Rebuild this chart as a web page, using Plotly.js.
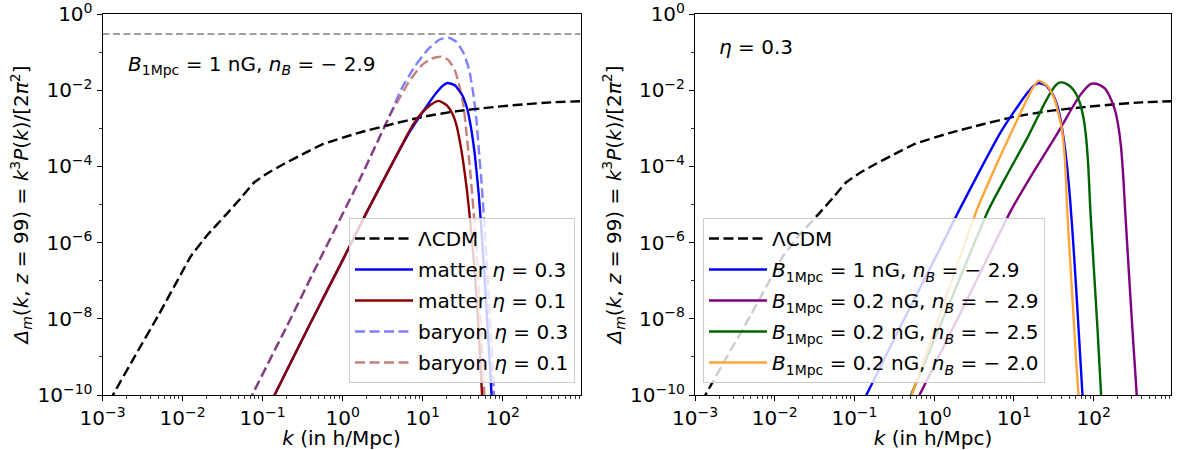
<!DOCTYPE html>
<html><head><meta charset="utf-8">
<script src="https://cdn.plot.ly/plotly-3.0.1.min.js"></script>
<style>html,body{margin:0;padding:0;background:#fff}</style>
</head><body><div id="chart" style="width:1181px;height:450px"></div>
<script>
// ---------- data ----------
const lcdmK = [0.001,0.00135,0.00251,0.00501,0.01,0.0126,0.0204,0.0331,0.0531,0.0776,0.115,0.186,0.331,0.575,1.585,3.98,10,26.9,70.8,186,398,955];
const lcdmD = [3.16e-11,1e-10,1e-9,1.26e-8,1.78e-7,4.27e-7,1.58e-6,4.79e-6,1.45e-5,3.72e-5,6.61e-5,1.17e-4,2.19e-4,3.89e-4,7.59e-4,1.26e-3,2.0e-3,2.82e-3,3.55e-3,4.27e-3,4.79e-3,5.13e-3];

const matter03K = [0.126,0.141,0.398,1.0,2.0,3.98,6.92,11.2,14.8,17.8,20.4,25.1,30.9,35.5,39.8,44.7,50.1,55.0,60.3,66.1,72.4,75.9];
const matter03D = [6.2e-11,1e-10,7.9e-9,3.47e-7,6.31e-6,1.0e-4,8.32e-4,3.8e-3,8.51e-3,1.32e-2,1.55e-2,1.35e-2,7.59e-3,3.55e-3,1.12e-3,2.0e-4,1.78e-5,1.26e-6,6.31e-8,2.51e-9,1e-10,1.58e-11];

const matter01K = [0.126,0.141,0.398,1.0,2.0,3.98,6.61,7.94,10.0,12.6,15.8,20.0,23.4,26.3,28.8,31.6,35.5,39.8,44.7,50.1,55.0,57.5];
const matter01D = [6.2e-11,1e-10,7.9e-9,3.47e-7,6.31e-6,1.0e-4,7.59e-4,1.45e-3,2.69e-3,4.17e-3,5.25e-3,3.98e-3,2.45e-3,1.23e-3,5.01e-4,1.58e-4,2.51e-5,2.51e-6,1.58e-7,3.98e-9,1e-10,1.6e-11];

const baryon03K = [0.0676,0.0741,0.200,0.513,1.585,3.98,5.37,7.94,11.7,16.2,20.9,26.3,32.4,38.0,42.7,46.8,50.1,55.0,60.3,66.1,72.4,77.6,81.3];
const baryon03D = [6.3e-11,1e-10,6.3e-9,3.47e-7,3.98e-5,2.51e-3,1.05e-2,4.17e-2,0.120,0.214,0.240,0.186,9.33e-2,3.39e-2,8.32e-3,1.66e-3,2.82e-4,2.51e-5,1.26e-6,5.01e-8,2.0e-9,1e-10,1.6e-11];

const baryon01K = [0.0676,0.0741,0.200,0.513,1.585,3.98,5.01,6.61,9.55,12.9,17.0,20.9,25.1,28.8,32.4,34.7,39.8,44.7,50.1,55.0,58.9,61.7];
const baryon01D = [6.3e-11,1e-10,6.3e-9,3.47e-7,3.98e-5,2.40e-3,5.62e-3,1.58e-2,4.37e-2,6.76e-2,7.59e-2,6.17e-2,3.39e-2,1.23e-2,3.72e-3,1.0e-3,5.01e-5,2.51e-6,6.31e-8,1.58e-9,1e-10,1.6e-11];

const b02n29K = [0.589,0.655,2.512,9.27,18.2,35.9,52.5,64.1,75.9,85.1,94.4,107,123,139,158,185,204,220,234,248,275,309,347,363];
const b02n29D = [6.3e-11,1e-10,2.82e-8,7.24e-6,7.94e-5,7.94e-4,3.16e-3,6.31e-3,1.0e-2,1.29e-2,1.48e-2,1.48e-2,1.32e-2,1.10e-2,7.08e-3,3.02e-3,1.12e-3,3.31e-4,6.31e-5,7.24e-6,2.0e-7,3.98e-9,1e-10,2.0e-11];

const b02n25K = [0.468,0.513,1.585,4.80,8.41,15.0,24.3,29.5,33.1,37.0,41.7,47.9,52.8,60.3,67.3,74.1,79.4,85.7,90.8,100,112,124,129];
const b02n25D = [6.3e-11,1e-10,2.82e-8,7.24e-6,6.61e-5,6.03e-4,4.57e-3,9.33e-3,1.32e-2,1.58e-2,1.58e-2,1.38e-2,1.17e-2,7.94e-3,4.57e-3,2.0e-3,7.41e-4,9.77e-5,7.24e-6,2.51e-7,5.0e-9,1e-10,2.5e-11];

const b02n20K = [0.479,0.525,1.259,3.43,5.62,8.41,12.4,16.6,20.4,26.9,32.6,39.5,43.6,46.6,50.1,55.0,60.3,64.6,67.6];
const b02n20D = [5.75e-11,1e-10,1.9e-8,7.24e-6,7.94e-5,5.01e-4,2.82e-3,1.0e-2,1.78e-2,1.23e-2,5.5e-3,1.10e-3,1.48e-4,7.24e-6,5.01e-7,2.0e-8,7.94e-10,1e-10,2.0e-11];

const saturationLevel = 0.3;

const xTickVals = [1e-3,1e-2,1e-1,1,10,100];
const xTickText = ['10<sup>−3</sup>','10<sup>−2</sup>','10<sup>−1</sup>','10<sup>0</sup>','10<sup>1</sup>','10<sup>2</sup>'];
const yTickVals = [1e-10,1e-8,1e-6,1e-4,1e-2,1];
const yTickText = ['10<sup>−10</sup>','10<sup>−8</sup>','10<sup>−6</sup>','10<sup>−4</sup>','10<sup>−2</sup>','10<sup>0</sup>'];

const leftNames = ['ΛCDM','matter <i>η</i> = 0.3','matter <i>η</i> = 0.1','baryon <i>η</i> = 0.3','baryon <i>η</i> = 0.1'];
const rightNames = ['ΛCDM',
  '<i>B</i><sub>1Mpc</sub> = 1 nG, <i>n<sub>B</sub></i> = − 2.9',
  '<i>B</i><sub>1Mpc</sub> = 0.2 nG, <i>n<sub>B</sub></i> = − 2.9',
  '<i>B</i><sub>1Mpc</sub> = 0.2 nG, <i>n<sub>B</sub></i> = − 2.5',
  '<i>B</i><sub>1Mpc</sub> = 0.2 nG, <i>n<sub>B</sub></i> = − 2.0'];

// ---------- styling ----------
const FONT = 'DejaVu Sans, sans-serif';
const FS = 20;
const DASH = '10px,4.5px';
const LW = 2.4;

function tr(x, y, name, color, dash, ax, leg, idx) {
  return {
    x: x, y: y, name: name, type: 'scatter', mode: 'lines',
    line: {color: color, width: LW, dash: dash || 'solid', shape: 'spline', smoothing: 0.5},
    xaxis: ax === 2 ? 'x2' : 'x', yaxis: ax === 2 ? 'y2' : 'y',
    legend: leg, legendgroup: leg + idx, hoverinfo: 'skip'
  };
}

const data = [
  tr(lcdmK, lcdmD, leftNames[0], '#000000', DASH, 1, 'legend', 0),
  tr(matter03K, matter03D, leftNames[1], '#0000ff', null, 1, 'legend', 1),
  tr(matter01K, matter01D, leftNames[2], '#8b0000', null, 1, 'legend', 2),
  tr(baryon03K, baryon03D, leftNames[3], 'rgba(0,0,255,0.5)', DASH, 1, 'legend', 3),
  tr(baryon01K, baryon01D, leftNames[4], 'rgba(139,0,0,0.5)', DASH, 1, 'legend', 4),
  tr(lcdmK, lcdmD, rightNames[0], '#000000', DASH, 2, 'legend2', 0),
  tr(matter03K, matter03D, rightNames[1], '#0000ff', null, 2, 'legend2', 1),
  tr(b02n29K, b02n29D, rightNames[2], '#800080', null, 2, 'legend2', 2),
  tr(b02n25K, b02n25D, rightNames[3], '#006400', null, 2, 'legend2', 3),
  tr(b02n20K, b02n20D, rightNames[4], '#ffa53a', null, 2, 'legend2', 4)
];

function minorVals() {
  const v = [];
  for (let d = -3; d <= 2; d++) for (let m = 2; m <= 9; m++) v.push(m * Math.pow(10, d));
  return v;
}

function xax(domain, anchor) {
  return {
    type: 'log', domain: domain, anchor: anchor, range: [-3, 2.97],
    tickmode: 'array', tickvals: xTickVals, ticktext: xTickText,
    ticks: 'outside', ticklen: 5, tickwidth: 1, tickcolor: '#000',
    minor: {tickmode: 'array', tickvals: minorVals(), ticks: 'outside', ticklen: 3, tickwidth: 0.8, tickcolor: '#000'},
    showline: true, mirror: true, linecolor: '#000', linewidth: 1,
    showgrid: false, zeroline: false, ticklabeloverflow: 'allow',
    tickfont: {family: FONT, size: FS, color: '#000'},
    title: {text: '<i>k</i> (in h/Mpc)', font: {family: FONT, size: FS, color: '#000'}, standoff: 6},
    automargin: false
  };
}
function yax(domain, anchor) {
  return {
    type: 'log', domain: domain, anchor: anchor, range: [-10, 0],
    tickmode: 'array', tickvals: yTickVals, ticktext: yTickText,
    ticks: 'outside', ticklen: 5, tickwidth: 1, tickcolor: '#000',
    minor: {tickmode: 'array', tickvals: [1e-9,1e-7,1e-5,1e-3,1e-1], ticks: 'outside', ticklen: 3, tickwidth: 0.8, tickcolor: '#000'},
    showline: true, mirror: true, linecolor: '#000', linewidth: 1,
    showgrid: false, zeroline: false, ticklabeloverflow: 'allow',
    tickfont: {family: FONT, size: FS, color: '#000'},
    title: {text: '<i>Δ</i><sub><i>m</i></sub>(<i>k</i>, <i>z</i> = 99) = <i>k</i><sup>3</sup><i>P</i>(<i>k</i>)/[2<i>π</i><sup>2</sup>]',
            font: {family: FONT, size: FS, color: '#000'}, standoff: 3},
    automargin: false
  };
}

const W = 1181, H = 450;
const yDom = [1 - 395 / H, 1 - 14 / H];
const legendCommon = {
  bgcolor: 'rgba(255,255,255,0.8)', bordercolor: '#cccccc', borderwidth: 1,
  font: {family: FONT, size: FS, color: '#000'}, tracegroupgap: 2, itemwidth: 58
};

const layout = {
  width: W, height: H,
  margin: {l: 0, r: 0, t: 0, b: 0},
  paper_bgcolor: '#fff', plot_bgcolor: '#fff',
  font: {family: FONT, size: FS, color: '#000'},
  xaxis: xax([102.5 / W, 580.5 / W], 'y'),
  yaxis: yax(yDom, 'x'),
  xaxis2: xax([695 / W, 1171 / W], 'y2'),
  yaxis2: yax(yDom, 'x2'),
  legend: Object.assign({x: 575 / W, xanchor: 'right', y: 1 - 383 / H, yanchor: 'bottom'}, legendCommon),
  legend2: Object.assign({x: 703 / W, xanchor: 'left', y: 1 - 383 / H, yanchor: 'bottom'}, legendCommon),
  shapes: [{
    type: 'line', xref: 'x domain', x0: 0, x1: 1, yref: 'y', y0: saturationLevel, y1: saturationLevel,
    line: {color: '#808080', width: 1.5, dash: '7px,3.5px'}
  }],
  annotations: [
    {xref: 'x domain', yref: 'y domain', x: 0.05, y: 0.866, xanchor: 'left', yanchor: 'middle', showarrow: false,
     text: '<i>B</i><sub>1Mpc</sub> = 1 nG, <i>n<sub>B</sub></i> = − 2.9', font: {family: FONT, size: FS, color: '#000'}},
    {xref: 'x2 domain', yref: 'y2 domain', x: 0.046, y: 0.913, xanchor: 'left', yanchor: 'middle', showarrow: false,
     text: '<i>η</i> = 0.3', font: {family: FONT, size: FS, color: '#000'}}
  ]
};

Plotly.newPlot('chart', data, layout, {displayModeBar: false, staticPlot: true});
</script></body></html>
